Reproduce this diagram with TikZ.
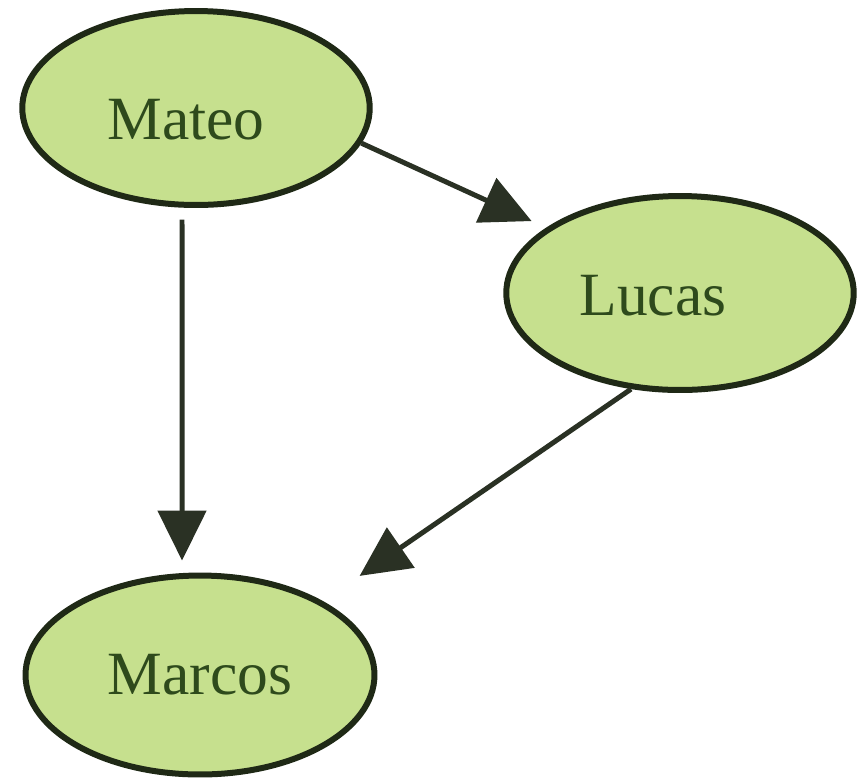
\documentclass[tikz,border=0pt]{standalone}
\usepackage{fontspec}
\setmainfont{Liberation Serif}
\usetikzlibrary{shapes.geometric,arrows.meta}
\definecolor{leaf}{HTML}{C6E08E}
\definecolor{bark}{HTML}{1F2916}
\definecolor{ink}{HTML}{2E4A1C}
\definecolor{wire}{HTML}{2A3124}
\begin{document}
\begin{tikzpicture}[x=0.02cm,y=-0.02cm,
  person/.style={ellipse,draw=bark,fill=leaf,line width=0.12cm,
    minimum width=6.95cm,minimum height=3.88cm,inner sep=0pt},
  personname/.style={text=ink,font=\fontsize{35}{42}\selectfont},
  link/.style={draw=wire,line width=0.1cm,
    -{Triangle[length=1.0cm,width=0.96cm]}}]
\useasboundingbox (0,0) rectangle (866,779);

\node[person,label={[personname,xshift=-0.2cm,yshift=-0.24cm]center:Mateo}] (mateo) at (196,108) {};
\node[person,label={[personname,xshift=-0.54cm,yshift=-0.06cm]center:Lucas}] (lucas) at (680,293) {};
\node[person,minimum width=6.98cm,minimum height=3.98cm,label={[personname]center:Marcos}] (marcos) at (200,675) {};

\draw[link,shorten >=0.32cm] (mateo.-12.7)--(lucas.154.2);
\draw[link,shorten <=0.24cm,shorten >=0.25cm] (mateo.-98.3)--(marcos.100.1);
\draw[link,shorten >=0.89cm] (lucas.-117.9)--(marcos.31.7);

\end{tikzpicture}
\end{document}
